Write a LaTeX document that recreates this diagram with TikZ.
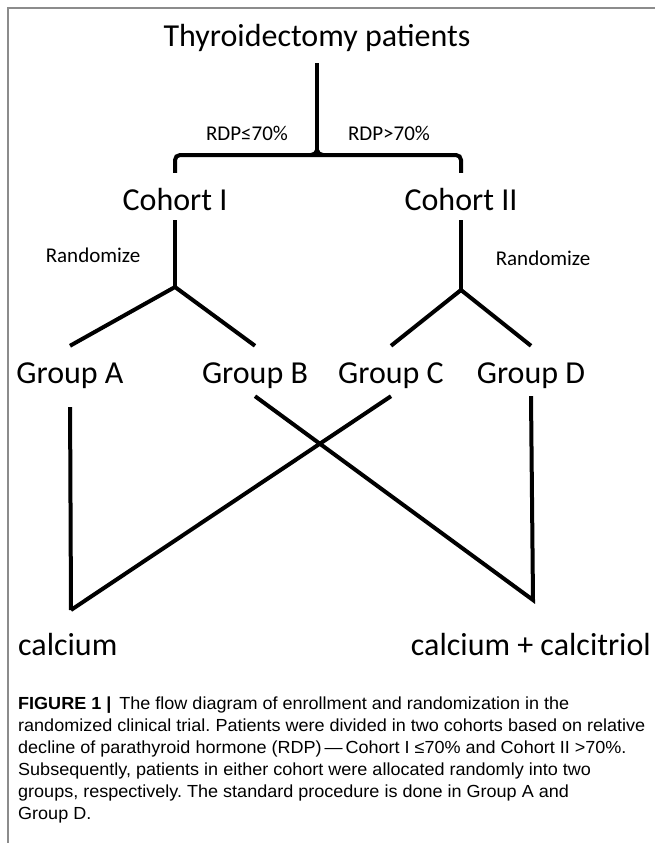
\documentclass[tikz,border=0pt]{standalone}
\usepackage{fontspec}
\setmainfont{Carlito}
\newfontfamily\capfont[FakeStretch=1.03]{Liberation Sans}
\frenchspacing

\tikzset{
    big/.style={font=\fontsize{32}{32}\selectfont, inner sep=0pt, anchor=base},
    small/.style={font=\fontsize{21}{21}\selectfont, inner sep=0pt, anchor=base},
    caption/.style={font=\capfont\fontsize{17.5}{22}\selectfont, inner sep=0pt, anchor=base west},
    link/.style={line width=4pt},
}

\begin{document}
\begin{tikzpicture}[x=1pt,y=-1pt]
    \useasboundingbox (0,0) rectangle (655,843);
    \draw [black!45, line width=1.2pt] (8,843) -- (8,8) -- (655,8);

    \node [big, text depth=16pt] (title) at (317,47) {Thyroidectomy patients};
    \node [small] (rdpLow) at (247,140) {RDP≤70\%};
    \node [small] (rdpHigh) at (389,140) {RDP>70\%};
    \node [big, text height=37pt, text depth=10pt] (cohortI) at (175,210) {Cohort I};
    \node [big, text height=37pt, text depth=10pt] (cohortII) at (461,210) {Cohort II};
    \node [small] (randI) at (93,262) {Randomize};
    \node [small] (randII) at (543,265) {Randomize};
    \node [big, text height=37pt, text depth=13pt] (groupA) at (70,383) {Group A};
    \node [big, text height=37pt, text depth=13pt] (groupB) at (255,383) {Group B};
    \node [big, text height=37pt, text depth=13pt] (groupC) at (391,383) {Group C};
    \node [big, text height=37pt, text depth=13pt] (groupD) at (531,383) {Group D};
    \node [big, anchor=base west] (calcium) at (18,655) {calcium};
    \node [big, anchor=base east] (calcitriol) at (651,655) {calcium + calcitriol};

    \coordinate (tip) at (317,150);
    \coordinate (splitI) at (175,287);
    \coordinate (splitII) at (461,290);
    \coordinate (vLeft) at (71,610);
    \coordinate (vRight) at (533,600);

    \draw [link] (title.south) -- (tip);
    \draw [link, rounded corners=5pt] (cohortI.north) |- ([yshift=-5pt]tip) -| (cohortII.north);
    \draw [link] ([xshift=-6pt,yshift=-5pt]tip) to[out=0,in=-90] (tip) to[out=-90,in=180] ([xshift=6pt,yshift=-5pt]tip);

    \draw [link] (cohortI.south) -- (splitI);
    \draw [link] (groupA.north) -- (splitI) -- (groupB.north);
    \draw [link] (cohortII.south) -- (splitII);
    \draw [link] (groupC.north) -- (splitII) -- (groupD.north);

    \draw [link, shorten <=11pt] (groupA.south) -- (vLeft);
    \draw [link] (vLeft) -- (groupC.south);
    \draw [link] (groupB.south) -- (vRight) -- (groupD.south);

    \foreach \txt [count=\i] in {
        {\textbf{FIGURE 1 |}\hspace{3pt} The flow diagram of enrollment and randomization in the},
        {randomized clinical trial. Patients were divided in two cohorts based on relative},
        {decline of parathyroid hormone (RDP)\,—\,Cohort I ≤70\% and Cohort II >70\%.},
        {Subsequently, patients in either cohort were allocated randomly into two},
        {groups, respectively. The standard procedure is done in Group A and},
        {Group D.}}
        \node [caption] (cap\i) at (18,{687+22*\i}) {\txt};
\end{tikzpicture}
\end{document}
